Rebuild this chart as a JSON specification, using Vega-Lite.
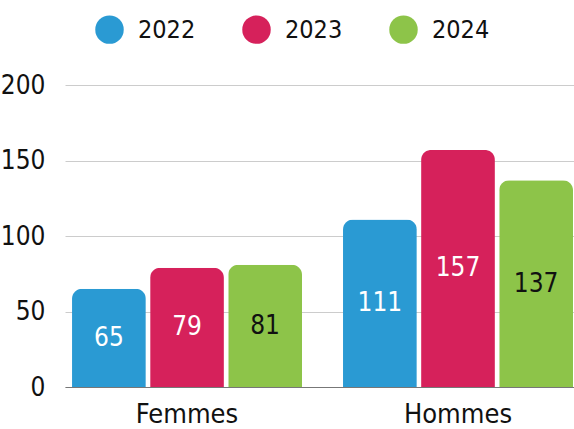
{
  "$schema": "https://vega.github.io/schema/vega-lite/v6.json",
  "width": 509,
  "height": 302,
  "autosize": {"type": "none"},
  "padding": {"left": 65, "top": 85, "right": 0, "bottom": 42},
  "background": "white",
  "config": {
    "view": {"stroke": null},
    "font": "DejaVu Sans Condensed, sans-serif",
    "axis": {"labelFont": "DejaVu Sans Condensed, sans-serif", "labelColor": "#111"},
    "legend": {"labelFont": "DejaVu Sans Condensed, sans-serif", "labelColor": "#111"}
  },
  "data": {
    "values": [
      {"sexe": "Femmes", "year": "2022", "value": 65},
      {"sexe": "Femmes", "year": "2023", "value": 79},
      {"sexe": "Femmes", "year": "2024", "value": 81},
      {"sexe": "Hommes", "year": "2022", "value": 111},
      {"sexe": "Hommes", "year": "2023", "value": 157},
      {"sexe": "Hommes", "year": "2024", "value": 137}
    ]
  },
  "encoding": {
    "x": {
      "field": "sexe",
      "type": "nominal",
      "scale": {"paddingInner": 0.1513, "paddingOuter": 0.0148, "align": 0.875},
      "axis": {
        "title": null,
        "labelAngle": 0,
        "labelFontSize": 27,
        "labelPadding": 14,
        "ticks": false,
        "domain": true,
        "domainColor": "#777",
        "domainWidth": 1,
        "grid": false
      }
    },
    "xOffset": {"field": "year", "type": "nominal", "scale": {"paddingInner": 0.055}}
  },
  "layer": [
    {
      "mark": {"type": "bar", "cornerRadiusTopLeft": 10, "cornerRadiusTopRight": 10},
      "encoding": {
        "y": {
          "field": "value",
          "type": "quantitative",
          "scale": {"domain": [0, 200], "nice": false},
          "axis": {
            "title": null,
            "values": [0, 50, 100, 150, 200],
            "grid": true,
            "gridColor": "#cccccc",
            "gridWidth": 1,
            "domain": false,
            "ticks": false,
            "labelFontSize": 26,
            "labelPadding": 20,
            "labelBaseline": "middle"
          }
        },
        "color": {
          "field": "year",
          "type": "nominal",
          "scale": {"domain": ["2022", "2023", "2024"], "range": ["#2a9ad3", "#d6215b", "#8dc449"]},
          "legend": {
            "title": null,
            "orient": "none",
            "direction": "horizontal",
            "legendX": 30,
            "legendY": -70,
            "symbolType": "circle",
            "symbolSize": 810,
            "symbolStrokeWidth": 0,
            "symbolOpacity": 1,
            "labelFontSize": 25,
            "labelOffset": 14,
            "columnPadding": 46
          }
        }
      }
    },
    {
      "mark": {"type": "text", "fontSize": 26, "baseline": "middle", "align": "center"},
      "encoding": {
        "y": {
          "field": "value",
          "type": "quantitative",
          "scale": {"domain": [0, 400], "nice": false},
          "axis": null
        },
        "text": {"field": "value", "type": "quantitative"},
        "fill": {
          "condition": {"test": "datum.year === '2024'", "value": "#111111"},
          "value": "#ffffff"
        }
      }
    }
  ],
  "resolve": {"scale": {"y": "independent"}}
}
